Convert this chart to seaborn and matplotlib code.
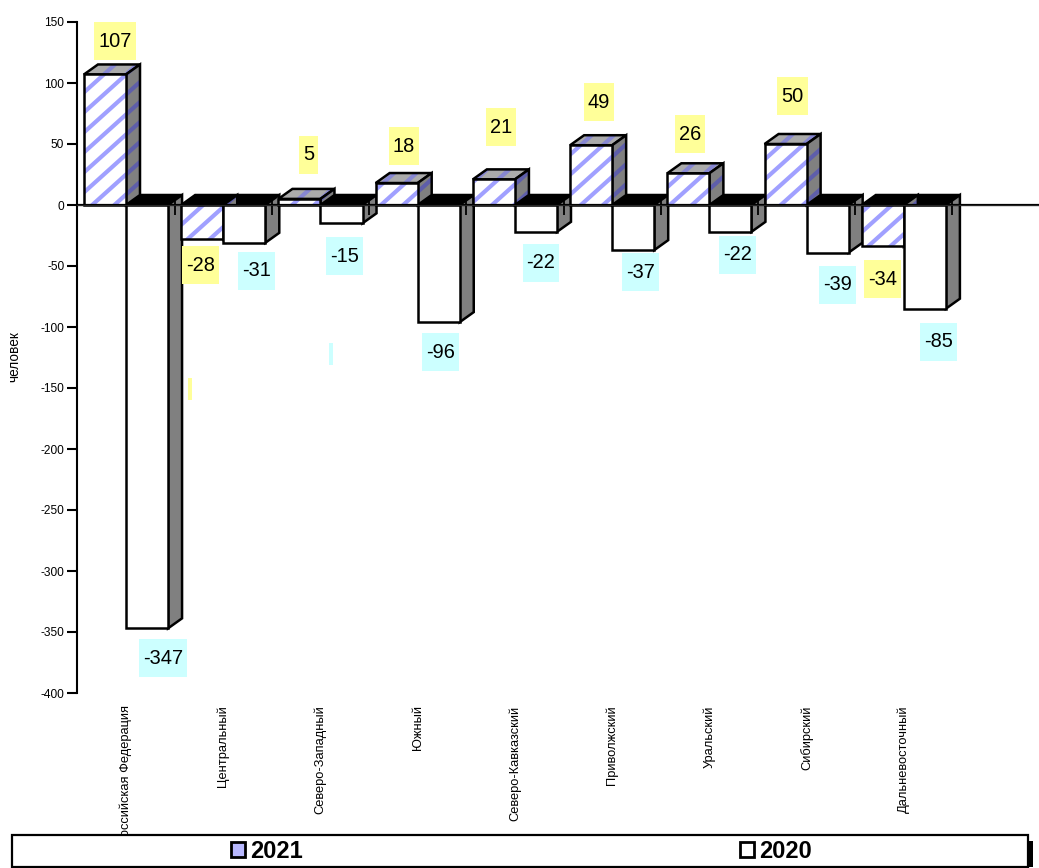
import numpy as np
import pandas as pd
import matplotlib
matplotlib.use("Agg")
import matplotlib.pyplot as plt
from matplotlib.patches import Polygon, Rectangle, Patch
from matplotlib.collections import LineCollection
from matplotlib.transforms import IdentityTransform
import seaborn as sns

regions = ["Российская Федерация", "Центральный", "Северо-Западный", "Южный",
           "Северо-Кавказский", "Приволжский", "Уральский", "Сибирский", "Дальневосточный"]
values_2021 = [107, -28, 5, 18, 21, 49, 26, 50, -34]
values_2020 = [-347, -31, -15, -96, -22, -37, -22, -39, -85]
y_ticks = list(range(-400, 151, 50))

# label offsets from each bar tip, in pixels (x right, y up)
offsets_2021 = [(10, 33), (-2, -26), (9, 44), (7, 37), (7, 52), (8, 43), (2, 39), (7, 48), (0, -33)]
offsets_2020 = [(16, -30), (12, -28), (3, -33), (2, -30), (5, -31), (7, -22), (7, -23), (10, -32), (14, -33)]

W, H = 1039, 868
DX, DY = 14, 10
LW = 1.8
YELLOW, CYAN = "#FFFF99", "#CCFFFF"
STRIPE_STEP, STRIPE_W = 20, 3.0
SLOPE = np.tan(np.radians(42))

sns.set_style("white")
plt.rcParams["font.family"] = ["Liberation Sans", "DejaVu Sans"]
plt.rcParams["axes.unicode_minus"] = False
for key in ("text.color", "axes.labelcolor", "xtick.color", "ytick.color"):
    plt.rcParams[key] = "black"

df = pd.DataFrame({
    "округ": regions * 2,
    "человек": values_2021 + values_2020,
    "год": ["2021"] * len(regions) + ["2020"] * len(regions),
})

fig = plt.figure(figsize=(W / 100, H / 100), dpi=100, facecolor="white")
ax = fig.add_axes([77 / W, (H - 693) / H, (W - 77) / W, (693 - 22) / H])
sns.barplot(data=df, x="округ", y="человек", hue="год", hue_order=["2021", "2020"],
            palette={"2021": "white", "2020": "white"}, width=0.865, gap=0, saturation=1,
            legend=False, ax=ax)
ax.set_xlim(-0.504, 9.39)
ax.set_ylim(min(y_ticks), max(y_ticks))
ax.set_yticks(y_ticks)
ax.set_xticks(range(len(regions)))
ax.set_xticklabels(regions, rotation=90, ha="center", va="top", fontsize=9.3)
ax.tick_params(axis="x", length=0, pad=9)
ax.tick_params(axis="y", length=7.2, width=1.5, labelsize=8.6, pad=2, left=True, color="black")
for s in ("top", "right", "bottom"):
    ax.spines[s].set_visible(False)
ax.spines["left"].set_linewidth(1.5)
ax.spines["left"].set_color("black")
ax.set_xlabel("")
ax.set_ylabel("человек", fontsize=9.8)
ax.yaxis.set_label_coords((21 - 77) / (W - 77), (693 - 357) / 671)
fig.canvas.draw()


def stripes(pts, color, clip, z):
    x0, x1 = pts[:, 0].min() - 2, pts[:, 0].max() + 2
    y0, y1 = pts[:, 1].min(), pts[:, 1].max()
    c0 = y0 - SLOPE * x1
    c1 = y1 - SLOPE * x0
    k0 = int(np.floor(c0 / STRIPE_STEP))
    k1 = int(np.ceil(c1 / STRIPE_STEP))
    segs = [[(x0, k * STRIPE_STEP + SLOPE * x0), (x1, k * STRIPE_STEP + SLOPE * x1)]
            for k in range(k0, k1 + 1)]
    lc = LineCollection(segs, colors=color, linewidths=STRIPE_W, transform=IdentityTransform(), zorder=z)
    ax.add_collection(lc, autolim=False)
    lc.set_clip_path(clip)


def face(pts, fc, stripe, z):
    pts = np.asarray(pts, float)
    base = Polygon(pts, closed=True, facecolor=fc, edgecolor="none", transform=IdentityTransform(),
                   zorder=z, clip_on=False)
    ax.add_patch(base)
    if stripe:
        stripes(pts, stripe, base, z + 0.01)
    ax.add_patch(Polygon(pts, closed=True, fill=False, edgecolor="black", lw=LW, joinstyle="miter",
                         transform=IdentityTransform(), zorder=z + 0.02, clip_on=False))


def corners(bar):
    x = bar.get_x()
    w = bar.get_width()
    h = bar.get_height()
    (xl, y0) = ax.transData.transform((x, 0))
    (xr, yv) = ax.transData.transform((x + w, h))
    return xl, xr, y0, yv


bars_2021, bars_2020 = ax.containers[0], ax.containers[1]
z = 3.0
for b21, b20 in zip(bars_2021, bars_2020):
    xl, xr, y0, yv = corners(b20)
    top = max(y0, yv)
    face([(xl, top), (xr, top), (xr + DX, top + DY), (xl + DX, top + DY)], "black", None, z)
    z += 0.1
    xl1, xr1, y1, yv1 = corners(b21)
    pos = yv1 > y1
    top1 = max(y1, yv1)
    bot1 = min(y1, yv1)
    face([(xl1, top1), (xr1, top1), (xr1 + DX, top1 + DY), (xl1 + DX, top1 + DY)],
         "#ABABAB" if pos else "black", "#8787D2" if pos else None, z)
    z += 0.1
    face([(xr1, bot1), (xr1, top1), (xr1 + DX, top1 + DY), (xr1 + DX, bot1 + DY)],
         "#808080", "#5E5EAA", z)
    z += 0.1
    face([(xl1, bot1), (xr1, bot1), (xr1, top1), (xl1, top1)], "white", "#A0A0FF", z)
    b21.set_visible(False)
    z += 0.1
    face([(xr, yv), (xr, y0), (xr + DX, y0 + DY), (xr + DX, yv + DY)], "#808080", None, z)
    z += 0.1
    face([(xl, yv), (xr, yv), (xr, y0), (xl, y0)], "white", None, z)
    b20.set_visible(False)
    z += 0.1

# zero line with category boundary ticks
ax.axhline(0, color="black", lw=1.6, zorder=39, clip_on=False)
frac = -min(y_ticks) / (max(y_ticks) - min(y_ticks))
sec = ax.secondary_xaxis(frac)
sec.set_xticks(np.arange(len(regions) + 1) - 0.5)
sec.set_xticklabels([])
sec.tick_params(axis="x", bottom=True, length=7.2, width=1.3, color="black", direction="out")
sec.set_zorder(40)

# value labels
renderer = fig.canvas.get_renderer()
for bars, vals, offs, col in ((bars_2021, values_2021, offsets_2021, YELLOW),
                              (bars_2020, values_2020, offsets_2020, CYAN)):
    for b, v, (ox, oy) in zip(bars, vals, offs):
        cx = b.get_x() + b.get_width() / 2
        t = ax.annotate(str(v), xy=(cx, v), xytext=(ox, oy), textcoords="offset pixels",
                        ha="center", va="center", fontsize=14.4, color="black",
                        zorder=61, annotation_clip=False)
        e = t.get_window_extent(renderer)
        px, py = ax.transData.transform((cx, v))
        bw = e.width + 8
        ax.add_patch(Rectangle((px + ox - bw / 2, py + oy - 19), bw, 38, facecolor=col, edgecolor="none",
                               transform=IdentityTransform(), zorder=60, clip_on=False))

# two empty label slivers
fig.add_artist(Rectangle((188 / W, (H - 400) / H), 3.5 / W, 22 / H, facecolor=YELLOW, edgecolor="none",
                         transform=fig.transFigure))
fig.add_artist(Rectangle((329 / W, (H - 365) / H), 3.5 / W, 22 / H, facecolor=CYAN, edgecolor="none",
                         transform=fig.transFigure))

# legend box with shadow
fig.add_artist(Rectangle((1028 / W, 1 / H), 5 / W, 26 / H, facecolor="black", edgecolor="none",
                         transform=fig.transFigure, zorder=2))
fig.add_artist(Rectangle((11.5 / W, 1.5 / H), (1028 - 11.5) / W, 31.5 / H, facecolor="white", edgecolor="black",
                         lw=1.6, transform=fig.transFigure, zorder=3))
handles = [Patch(facecolor="#B9B9FF", edgecolor="black", lw=2, label="2021"),
           Patch(facecolor="white", edgecolor="black", lw=2, label="2020")]
fig.legend(handles=handles, loc="center left", bbox_to_anchor=(231 / W, (H - 851) / H),
           bbox_transform=fig.transFigure, ncol=2, frameon=False, borderaxespad=0, borderpad=0,
           handlelength=0.6, handleheight=0.6, handletextpad=0.22, columnspacing=18.5,
           prop={"size": 17, "weight": "bold"})

fig.savefig("out.png", dpi=100)
